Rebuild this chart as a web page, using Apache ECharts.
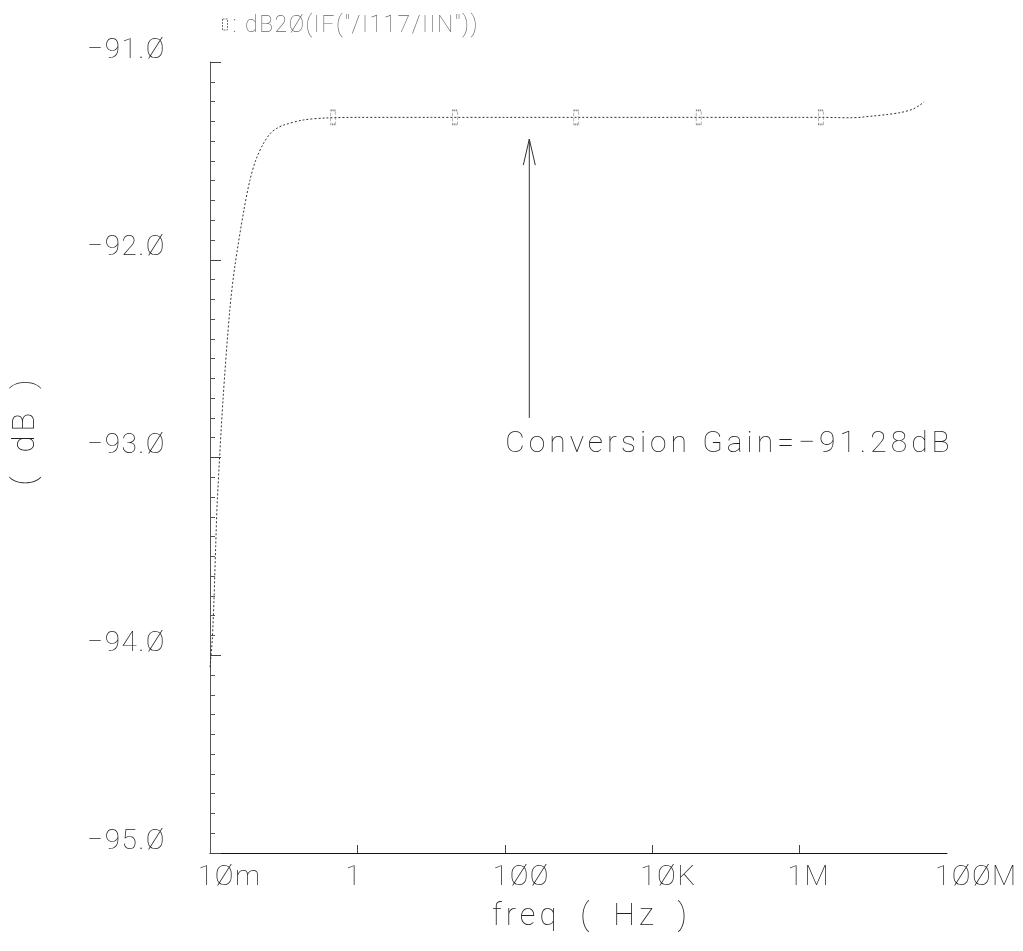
<!DOCTYPE html>
<html>
<head>
<meta charset="utf-8">
<script src="https://cdn.jsdelivr.net/npm/echarts@6/dist/echarts.min.js"></script>
<style>
  html, body { margin: 0; padding: 0; background: #ffffff; }
  #chart { width: 1023px; height: 951px; }
  /* monochrome plot: keep text anti-aliasing grey */
  #chart svg { filter: grayscale(1); }
  /* plotter-style wide letter spacing, per text size */
  #chart text[style*="28px"] { letter-spacing: 1.5px; }
  #chart text[style*="30px"] { letter-spacing: 4px; }
  #chart text[style*="31px"] { letter-spacing: 4px; }
  #chart text[style*="23px"] { letter-spacing: 1.5px; }
</style>
</head>
<body>
<div id="chart"></div>
<script>
// Frequency sweep of the IF output (Hz) and its conversion gain (dB)
const freqHz = [
  0.0100, 0.01074, 0.01132, 0.01194, 0.01256, 0.0150, 0.0186, 0.0218, 0.0288, 0.0347,
  0.0418, 0.0525, 0.0665, 0.0813, 0.0998, 0.186, 0.379, 1, 10, 100,
  1e3, 1e4, 1e5, 1e6, 2e6, 3e6, 4.9e6, 7e6, 1e7, 1.5e7,
  2.32e7, 3.47e7, 4.32e7, 4.9e7
];
const gainDb = [
  -94.06, -93.92, -93.72, -93.45, -93.22, -92.71, -92.25, -92.03, -91.75, -91.60,
  -91.496, -91.415, -91.359, -91.335, -91.319, -91.293, -91.283, -91.28, -91.28, -91.28,
  -91.28, -91.28, -91.28, -91.28, -91.28, -91.281, -91.282, -91.279, -91.273, -91.266,
  -91.256, -91.238, -91.217, -91.202
];

// Trace markers along the curve
const markerFreqHz = [0.47, 21, 933, 42700, 1.94e6];
const markerGainDb = [-91.28, -91.28, -91.28, -91.28, -91.28];

// Axis ticks and their labels
const xTickValues = [0.01, 1, 100, 1e4, 1e6, 1e8];
const xTickLabels = ['1Øm', '1', '1ØØ', '1ØK', '1M', '1ØØM'];
const xTickMarks = [1, 100, 1e4, 1e6];
const yTickValues = [-95, -94, -93, -92, -91];
const yTickLabels = ['−95.Ø', '−94.Ø', '−93.Ø', '−92.Ø', '−91.Ø'];

// Annotation: mid-band conversion gain
const conversionGainDb = -91.28;
const arrowFreqHz = 215;
const arrowTipDb = -91.39;
const arrowTailDb = -92.80;

const traceName = 'dB2Ø(IF("/I117/IIN"))';

const FONT = "Roboto, 'DejaVu Sans', sans-serif";
const TEXT = '#222222';

function labelFor(values, labels, v) {
  for (let i = 0; i < values.length; i++) {
    if (Math.abs(values[i] - v) < 1e-9 * Math.max(1, Math.abs(values[i])) ||
        (values[i] > 0 && v > 0 && Math.abs(Math.log10(values[i]) - Math.log10(v)) < 1e-6)) {
      return labels[i];
    }
  }
  return '';
}

const chart = echarts.init(document.getElementById('chart'), null, { renderer: 'svg' });

chart.setOption({
  animation: false,
  backgroundColor: '#ffffff',
  grid: { left: 206, right: 76, top: 62, bottom: 98, containLabel: false },
  legend: {
    data: [traceName],
    left: 217,
    top: 8,
    icon: 'rect',
    itemWidth: 5,
    itemHeight: 11,
    itemStyle: { color: 'rgba(255,255,255,0)', borderColor: '#777777', borderWidth: 1, borderType: [2, 1] },
    formatter: name => ': ' + name,
    textStyle: { fontFamily: FONT, fontWeight: 100, fontSize: 23, color: '#666666' },
    selectedMode: false
  },
  xAxis: {
    type: 'log',
    logBase: 10,
    min: 0.01,
    max: 1e8,
    interval: 2,
    name: 'freq\u2002(\u2002Hz\u2002)',
    nameLocation: 'middle',
    nameGap: 46,
    nameTextStyle: { fontFamily: FONT, fontWeight: 100, fontSize: 31, color: TEXT, padding: [0, 0, 0, 26] },
    axisLine: { show: true, lineStyle: { color: '#111111', width: 1 } },
    axisTick: { show: true, inside: true, length: 8, customValues: xTickMarks, lineStyle: { color: '#444444', width: 1 } },
    minorTick: { show: false },
    splitLine: { show: false },
    axisLabel: {
      customValues: xTickValues,
      showMinLabel: true,
      showMaxLabel: true,
      margin: 8,
      align: 'left',
      padding: [0, 0, 0, -12],
      fontFamily: FONT,
      fontWeight: 100,
      fontSize: 28,
      color: TEXT,
      formatter: v => labelFor(xTickValues, xTickLabels, v)
    }
  },
  yAxis: {
    type: 'value',
    min: -95,
    max: -91,
    interval: 1,
    name: '(\u2002dB\u2002)',
    nameLocation: 'middle',
    nameRotate: 90,
    nameGap: 171,
    nameTextStyle: { fontFamily: FONT, fontWeight: 100, fontSize: 31, color: TEXT, padding: [0, 0, 0, 54] },
    axisLine: { show: true, lineStyle: { color: '#555555', width: 1 } },
    axisTick: { show: true, inside: true, length: 11, lineStyle: { color: '#444444', width: 1 } },
    minorTick: { show: true, splitNumber: 10, length: 5, lineStyle: { color: '#555555', width: 1 } },
    splitLine: { show: false },
    axisLabel: {
      margin: 44,
      fontFamily: FONT,
      fontWeight: 100,
      fontSize: 28,
      lineHeight: 28,
      verticalAlign: 'bottom',
      color: TEXT,
      formatter: v => labelFor(yTickValues, yTickLabels, v)
    }
  },
  series: [
    {
      name: traceName,
      type: 'line',
      data: freqHz.map((f, i) => [f, gainDb[i]]),
      showSymbol: false,
      smooth: 0.3,
      lineStyle: { color: '#333333', width: 1, type: [2, 2] },
      itemStyle: { color: 'rgba(255,255,255,0)', borderColor: '#777777', borderWidth: 1, borderType: [2, 1] },
      z: 3
    },
    {
      name: 'markers',
      type: 'scatter',
      data: markerFreqHz.map((f, i) => [f, markerGainDb[i]]),
      symbol: 'rect',
      symbolSize: [5, 14],
      itemStyle: { color: 'rgba(255,255,255,0)', borderColor: '#666666', borderWidth: 1, borderType: [2, 1] },
      silent: true,
      z: 4
    },
    {
      name: 'annotation',
      type: 'custom',
      silent: true,
      z: 5,
      data: [[arrowFreqHz, arrowTipDb, arrowTailDb]],
      encode: { x: 0, y: 1 },
      renderItem(params, api) {
        const tip = api.coord([api.value(0), api.value(1)]);
        const tail = api.coord([api.value(0), api.value(2)]);
        const label = 'Conversion Gain=' + conversionGainDb.toFixed(2).replace('-', '−') + 'dB';
        return {
          type: 'group',
          children: [
            { type: 'line', shape: { x1: tip[0], y1: tip[1], x2: tail[0], y2: tail[1] },
              style: { stroke: '#333333', lineWidth: 1 } },
            { type: 'polyline', shape: { points: [[tip[0] - 6, tip[1] + 26], [tip[0], tip[1]], [tip[0] + 6, tip[1] + 26]] },
              style: { stroke: '#333333', fill: null, lineWidth: 1 } },
            { type: 'text', x: tail[0] - 24, y: tail[1] + 24,
              style: { text: label, fontFamily: FONT, fontWeight: 100, fontSize: 30, fill: TEXT, align: 'left', verticalAlign: 'middle' } }
          ]
        };
      }
    }
  ]
});
</script>
</body>
</html>
